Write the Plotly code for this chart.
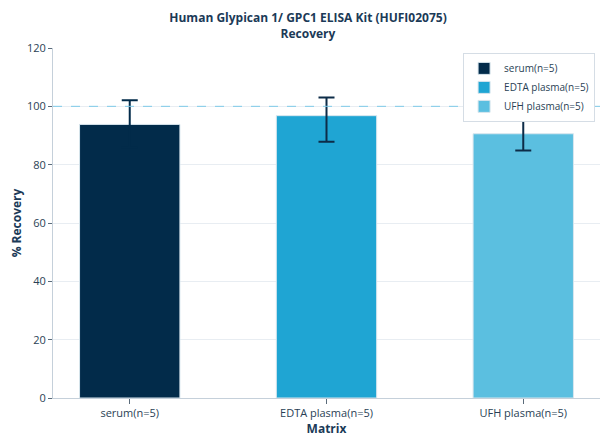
import plotly.graph_objects as go

categories = ["serum(n=5)", "EDTA plasma(n=5)", "UFH plasma(n=5)"]
recovery = [93.8, 96.8, 90.6]
err_plus = [8.3, 6.2, 13.0]
err_minus = [8.0, 8.9, 5.7]
colors = ["#022b4a", "#1fa5d3", "#5bbfe0"]
err_colors = ["#022b4a", "#0d2c48", "#0d2c48"]

fig = go.Figure()
for i, cat in enumerate(categories):
    fig.add_trace(go.Bar(
        x=[cat], y=[recovery[i]], name=cat,
        width=0.51,
        marker=dict(color=colors[i], line=dict(color="#d8e6ee", width=1)),
        error_y=dict(type="data", symmetric=False, array=[err_plus[i]],
                     arrayminus=[err_minus[i]], color=err_colors[i],
                     thickness=2, width=8),
    ))

fig.add_hline(y=100, line=dict(color="#7fcbe8", width=1, dash="dash"))

# page body has an 8px margin, so the figure is 8px smaller than the window
fig.update_layout(
    width=600, height=436,
    barmode="overlay",
    font=dict(family="Open Sans", size=11, color="#2a3f55"),
    title=dict(text="<b>Human Glypican 1/ GPC1 ELISA Kit (HUFI02075)<br>Recovery</b>",
               x=0.5, xanchor="center", y=1 - 14 / 436, yanchor="middle",
               font=dict(size=12, color="#1b3a57")),
    margin=dict(l=45, r=8, t=40, b=46),
    plot_bgcolor="white", paper_bgcolor="white",
    showlegend=True,
    legend=dict(x=0.991, xanchor="right", y=0.986, yanchor="top",
                bgcolor="white", bordercolor="#d5dde5", borderwidth=1,
                font=dict(size=10, color="#2a3f55")),
)
fig.update_xaxes(
    title=dict(text="<b>Matrix</b>", font=dict(size=12, color="#1b3a57"), standoff=4),
    range=[-0.39, 2.39], automargin=False,
    showline=True, linecolor="#c5d0da", linewidth=1,
    ticks="outside", ticklen=5, tickcolor="#5a6b7a",
    showgrid=False,
)
fig.update_yaxes(
    title=dict(text="<b>% Recovery</b>", font=dict(size=12, color="#1b3a57"), standoff=8),
    range=[0, 120], dtick=20, automargin=False,
    showline=True, linecolor="#c5d0da", linewidth=1,
    ticks="outside", ticklen=4, tickcolor="#5a6b7a",
    showgrid=True, gridcolor="#e8edf2", zeroline=False,
)

fig.write_html("out.html")
